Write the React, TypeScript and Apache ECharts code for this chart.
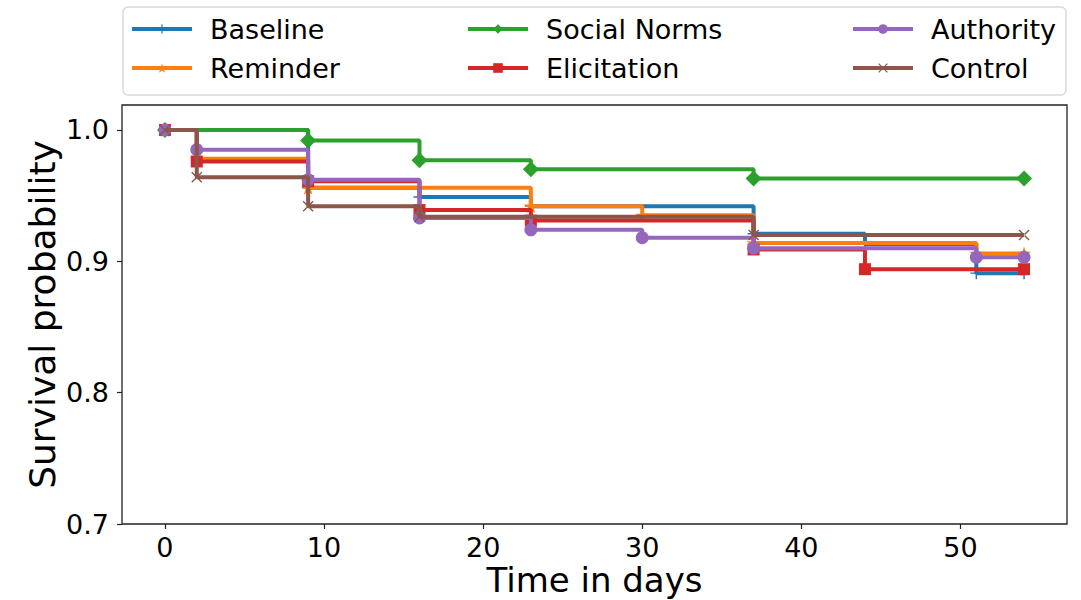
import React, { useEffect, useRef } from "react";
import * as echarts from "echarts";

const seriesNames = ["Baseline", "Reminder", "Social Norms", "Elicitation", "Authority", "Control"];
const colors = ["#1f77b4", "#ff7f0e", "#2ca02c", "#d62728", "#9467bd", "#8c564b"];

const baselineDays = [0, 9, 16, 23, 37, 44, 51, 54];
const baselineSurv = [1.0, 0.956, 0.949, 0.942, 0.921, 0.913, 0.891, 0.891];

const reminderDays = [0, 2, 9, 23, 30, 37, 51, 54];
const reminderSurv = [1.0, 0.978, 0.956, 0.942, 0.935, 0.914, 0.906, 0.906];

const socialDays = [0, 9, 16, 23, 37, 54];
const socialSurv = [1.0, 0.992, 0.977, 0.970, 0.963, 0.963];

const elicitDays = [0, 2, 9, 16, 23, 37, 44, 54];
const elicitSurv = [1.0, 0.976, 0.961, 0.939, 0.931, 0.909, 0.894, 0.894];

const authorityDays = [0, 2, 9, 16, 23, 30, 37, 51, 54];
const authoritySurv = [1.0, 0.985, 0.962, 0.933, 0.924, 0.918, 0.910, 0.903, 0.903];

const controlDays = [0, 2, 9, 16, 37, 54];
const controlSurv = [1.0, 0.964, 0.942, 0.934, 0.920, 0.920];

const xTicks = [0, 10, 20, 30, 40, 50];
const yTicks = [0.7, 0.8, 0.9, 1.0];

const PLUS = "path://M-0.12,-1H0.12V1H-0.12Z M-1,-0.12H1V0.12H-1Z";
const STAR =
  "path://M0,-1L0.2233,-0.3074L0.9511,-0.309L0.3614,0.1174L0.5878,0.809L0,0.38L-0.5878,0.809L-0.3614,0.1174L-0.9511,-0.309L-0.2233,-0.3074Z";
const XMARK = "path://M-1,-0.82L-0.82,-1L1,0.82L0.82,1Z M1,-0.82L0.82,-1L-1,0.82L-0.82,1Z";

const symbols = [PLUS, STAR, "diamond", "rect", "circle", XMARK];
const symbolSizes = [12, 14, 16, 12, 13, 11];

const FONT = "DejaVu Sans";

export default function App() {
  const ref = useRef<HTMLDivElement>(null);
  useEffect(() => {
    if (!ref.current) return;
    const chart = echarts.init(ref.current, undefined, { renderer: "svg" });
    const daysList = [baselineDays, reminderDays, socialDays, elicitDays, authorityDays, controlDays];
    const survList = [baselineSurv, reminderSurv, socialSurv, elicitSurv, authoritySurv, controlSurv];

    const series = seriesNames.map((name, i) => ({
      name,
      type: "line",
      step: "end",
      z: 2 + i,
      data: daysList[i].map((d, j) => [d, survList[i][j]]),
      symbol: symbols[i],
      symbolSize: symbolSizes[i],
      showSymbol: true,
      showAllSymbol: true,
      color: colors[i],
      lineStyle: { width: 4, color: colors[i] },
      itemStyle: { color: colors[i] },
      emphasis: { disabled: true },
    }));

    const legendCommon = {
      orient: "vertical",
      top: 14,
      padding: 0,
      itemWidth: 60,
      itemHeight: 12,
      itemGap: 9,
      lineStyle: { width: 4 },
      textStyle: {
        fontFamily: FONT,
        fontSize: 27,
        color: "#000",
        lineHeight: 30,
        padding: [0, 0, 0, 13],
      },
      selectedMode: false,
    };

    chart.setOption({
      animation: false,
      backgroundColor: "#fff",
      textStyle: { fontFamily: FONT },
      graphic: [
        {
          type: "rect",
          shape: { x: 123, y: 7, width: 943, height: 88, r: 5 },
          style: { fill: "#fff", stroke: "#d9d9d9", lineWidth: 1.5 },
          z: -1,
        },
      ],
      legend: [
        { ...legendCommon, left: 130, data: ["Baseline", "Reminder"] },
        { ...legendCommon, left: 466, data: ["Social Norms", "Elicitation"] },
        { ...legendCommon, left: 851, data: ["Authority", "Control"] },
      ],
      grid: {
        left: 122,
        top: 105,
        width: 945,
        height: 419,
        outerBoundsMode: "none",
        containLabel: false,
        show: true,
        borderColor: "#222",
        borderWidth: 1.3,
        backgroundColor: "transparent",
      },
      xAxis: {
        type: "value",
        min: -2.7,
        max: 56.7,
        name: "Time in days",
        nameLocation: "middle",
        nameGap: 38,
        nameMoveOverlap: false,
        nameTextStyle: { fontFamily: FONT, fontSize: 34, color: "#000", lineHeight: 36 },
        axisLine: { show: false, onZero: false },
        splitLine: { show: false },
        axisTick: {
          show: true,
          length: 5,
          customValues: xTicks,
          lineStyle: { color: "#222", width: 1.2 },
        },
        axisLabel: {
          customValues: xTicks,
          fontFamily: FONT,
          fontSize: 27,
          lineHeight: 27,
          color: "#000",
          margin: 10,
        },
      },
      yAxis: {
        type: "value",
        min: 0.7,
        max: 1.019,
        name: "Survival probability",
        nameLocation: "middle",
        nameGap: 62,
        nameMoveOverlap: false,
        nameTextStyle: { fontFamily: FONT, fontSize: 36, color: "#000" },
        axisLine: { show: false, onZero: false },
        splitLine: { show: false },
        axisTick: {
          show: true,
          length: 5,
          customValues: yTicks,
          lineStyle: { color: "#222", width: 1.2 },
        },
        axisLabel: {
          customValues: yTicks,
          fontFamily: FONT,
          fontSize: 27,
          color: "#000",
          margin: 13,
          formatter: (v: number) => v.toFixed(1),
        },
      },
      series,
    });
    return () => chart.dispose();
  }, []);
  return (
    <div
      ref={ref}
      style={{ position: "fixed", left: 0, top: 0, width: 1081, height: 600 }}
    />
  );
}
